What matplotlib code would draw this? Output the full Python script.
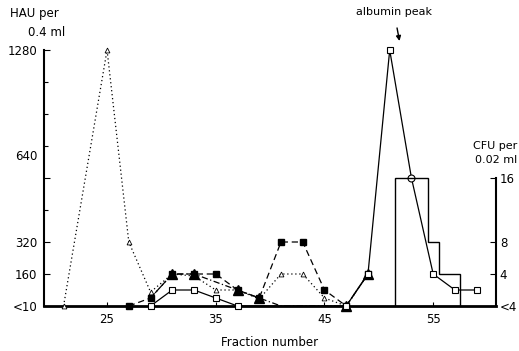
import matplotlib
matplotlib.use("Agg")
import matplotlib.pyplot as plt
import matplotlib.transforms as mtransforms
import numpy as np

# HAU per 0.4 ml for each fraction
frac_dotted = [21, 25, 27, 29, 31, 33, 35, 37, 39, 41, 43, 45, 47, 49]
hau_dotted = [0, 1280, 320, 70, 160, 150, 80, 80, 35, 160, 160, 40, 0, 160]

frac_dashed = [27, 29, 31, 33, 35, 37, 39, 41, 43, 45, 47, 49]
hau_dashed = [0, 40, 160, 160, 160, 80, 40, 320, 320, 80, 0, 160]

frac_dashdot = [29, 31, 33, 37, 39, 41, 47, 49]
hau_dashdot = [40, 160, 160, 80, 40, 0, 0, 160]
# fractions where the scan actually shows a filled triangle
tri_shown = [31, 33, 37, 39, 47, 49]

frac_solid = [29, 31, 33, 35, 37, 47, 49, 51, 53, 55, 57, 59]
hau_solid = [0, 80, 80, 40, 0, 0, 160, 1280, 640, 160, 80, 80]

# CFU per 0.02 ml (right axis), one value per fraction
frac_cfu = [52, 53, 54, 55, 56, 57]
cfu = [16, 16, 16, 8, 4, 4]

hau_ticks = [0, 160, 320, 640, 1280]
hau_labels = ["<10", "160", "320", "640", "1280"]
cfu_ticks = [0, 4, 8, 16]
cfu_labels = ["<4", "4", "8", "16"]
x_ticks = [25, 35, 45, 55]

plt.rcParams["font.family"] = ["DejaVu Sans"]

fig = plt.figure(figsize=(5.19, 3.51), dpi=100)
ax = fig.add_axes([44 / 519, 45 / 351, (495.7 - 44) / 519, 256 / 351])
ax2 = ax.twinx()

ax.set_xlim(19.2, 60.75)
ax.set_ylim(0, 1280)
ax2.set_ylim(0, 32)

k = "black"
ax.plot(frac_dotted, hau_dotted, color=k, lw=0.9, ls=(0, (1, 2.2)),
        marker="^", ms=3.5, mfc="white", mec=k, mew=0.6, clip_on=False, zorder=3)
ax.plot(frac_dashed, hau_dashed, color=k, lw=0.9, ls=(0, (5, 3)),
        marker="s", ms=4.5, mfc=k, mec=k, clip_on=False, zorder=4)
tri_idx = [i for i, f in enumerate(frac_dashdot) if f in tri_shown]
ax.plot(frac_dashdot, hau_dashdot, color=k, lw=0.9, ls=(0, (5, 2, 1, 2)),
        marker="^", ms=7.5, mfc=k, mec=k, markevery=tri_idx,
        clip_on=False, zorder=5)

ax.plot(frac_solid, hau_solid, color=k, lw=0.9, clip_on=False, zorder=6)
fs = np.array(frac_solid)
hs = np.array(hau_solid)
circ = fs == 53
ax.plot(fs[~circ], hs[~circ], ls="none", marker="s", ms=4.2, mfc="white",
        mec=k, mew=0.8, clip_on=False, zorder=7)
ax.plot(fs[circ], hs[circ], ls="none", marker="o", ms=5, mfc="white",
        mec=k, mew=0.8, clip_on=False, zorder=7)

fc = np.array(frac_cfu, dtype=float)
edges = np.append(fc - 0.5, fc[-1] + 0.5)
ax2.stairs(cfu, edges, baseline=0, color=k, lw=1.0, zorder=2)

# spines
for a in (ax, ax2):
    a.spines["top"].set_visible(False)
ax.spines["right"].set_visible(False)
ax2.spines["left"].set_visible(False)
ax2.spines["bottom"].set_visible(False)
ax.spines["left"].set_linewidth(1.5)
ax.spines["bottom"].set_linewidth(2.0)
ax2.spines["right"].set_linewidth(1.5)
ax2.spines["right"].set_bounds(0, 16)

ax.set_yticks(hau_ticks, hau_labels)
ax.set_yticks(np.arange(0, 1281, 160), minor=True)
ax.tick_params(axis="y", which="both", direction="in", length=3, width=0.8,
               labelsize=8.5, pad=5)
ax.tick_params(axis="y", which="major", length=4)
ax.set_xticks(x_ticks)
ax.tick_params(axis="x", direction="in", length=3, width=0.8, labelsize=8.5, pad=5)

ax2.set_yticks(cfu_ticks, cfu_labels)
ax2.tick_params(axis="y", direction="in", length=4, width=0.8, labelsize=8.5, pad=3)

# in the scan the "640" label sits well above its tick
lab640 = ax.get_yticklabels()[hau_labels.index("640")]
lab640.set_transform(lab640.get_transform()
                     + mtransforms.ScaledTranslation(0, 0.23, fig.dpi_scale_trans))

ax.set_xlabel("Fraction number", fontsize=8.5, labelpad=7)

fig.text(10 / 519, 1 - 14 / 351, "HAU per", fontsize=8.5, va="center", ha="left")
fig.text(28 / 519, 1 - 32 / 351, "0.4 ml", fontsize=8.5, va="center", ha="left")
fig.text(517 / 519, 1 - 146 / 351, "CFU per", fontsize=8, va="center", ha="right")
fig.text(517 / 519, 1 - 160 / 351, "0.02 ml", fontsize=8, va="center", ha="right")

ax.annotate("albumin peak", xy=(51.9, 1325), xycoords="data",
            xytext=(51.4, 1470), textcoords="data", ha="center", va="center",
            fontsize=8, annotation_clip=False,
            arrowprops=dict(arrowstyle="-|>", color=k, lw=1.0,
                            shrinkA=6, shrinkB=0, mutation_scale=7))

fig.savefig("out.png", dpi=100)
